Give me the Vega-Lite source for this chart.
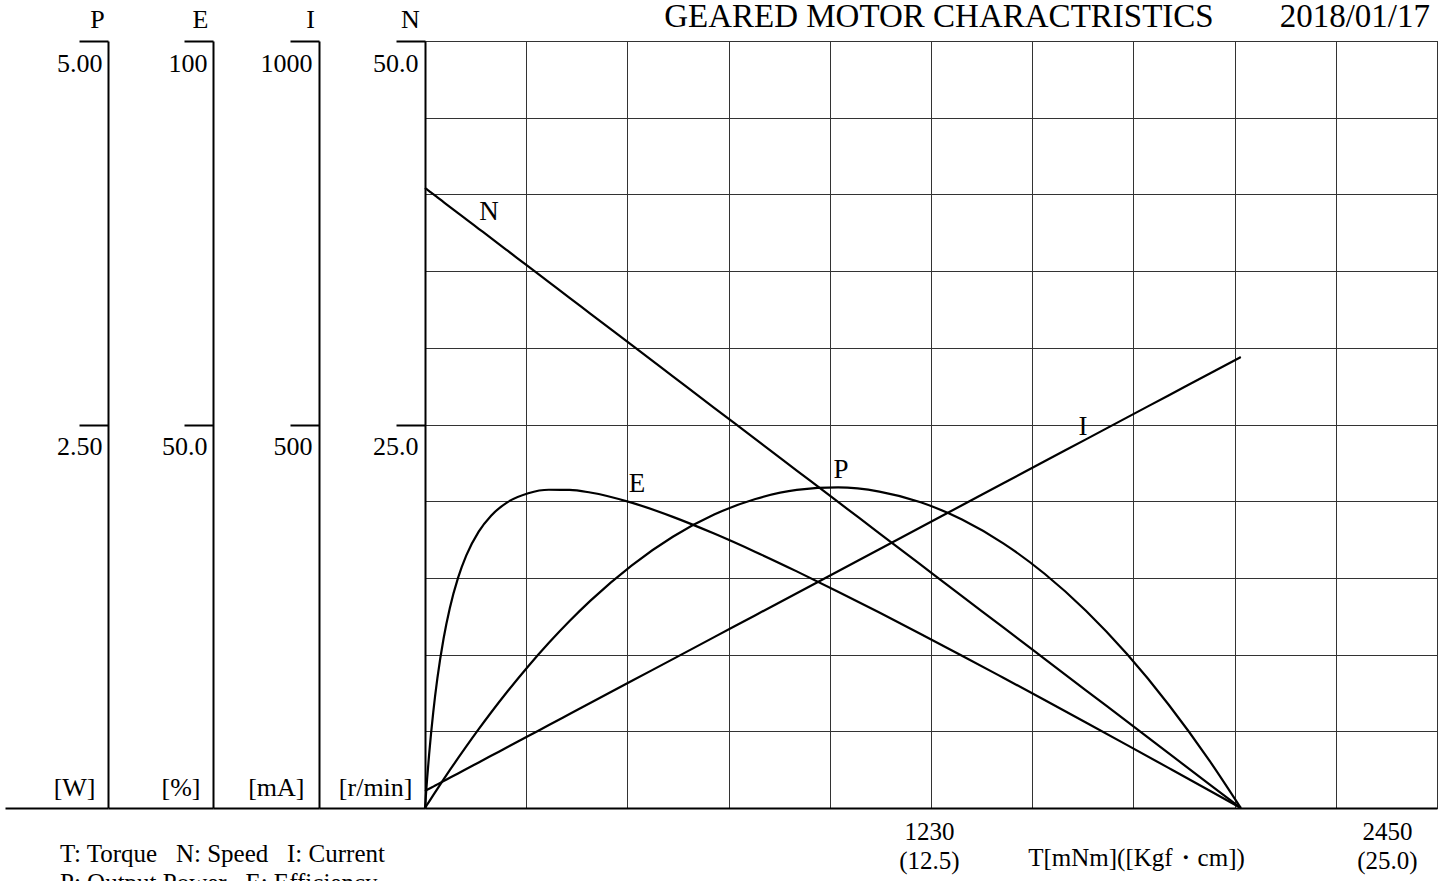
{
  "$schema": "https://vega.github.io/schema/vega-lite/v6.json",
  "width": 1012,
  "height": 767,
  "autosize": {"type": "none"},
  "padding": {"left": 425, "top": 41, "right": 12, "bottom": 73},
  "background": "white",
  "config": {
    "font": "Liberation Serif",
    "view": {"stroke": "black", "strokeWidth": 1},
    "axis": {
      "labelFont": "Liberation Serif",
      "labelColor": "black",
      "labelFontSize": 26,
      "titleFont": "Liberation Serif",
      "titleColor": "black",
      "titleFontSize": 26,
      "titleFontWeight": "normal",
      "domainColor": "black",
      "domainWidth": 2,
      "tickColor": "black",
      "tickWidth": 2,
      "gridColor": "#333333",
      "gridWidth": 1,
      "gridOpacity": 1
    }
  },
  "title": {
    "text": "GEARED MOTOR CHARACTRISTICS\u00a0\u00a0\u00a0\u00a0\u00a0\u00a0\u00a0\u00a02018/01/17",
    "anchor": "end",
    "frame": "group",
    "dx": -7,
    "offset": -54,
    "baseline": "alphabetic",
    "font": "Liberation Serif",
    "fontSize": 33,
    "fontWeight": "normal",
    "color": "black"
  },
  "datasets": {
    "curve": [
      {"T": 0, "N": 40.42, "I": 22.2, "P": 0, "E": 0},
      {"T": 5, "N": 40.32, "I": 23.6, "P": 0.0211, "E": 3.72},
      {"T": 10, "N": 40.22, "I": 25.1, "P": 0.0421, "E": 7.0},
      {"T": 20, "N": 40.01, "I": 27.9, "P": 0.0838, "E": 12.5},
      {"T": 30, "N": 39.81, "I": 30.8, "P": 0.1251, "E": 16.92},
      {"T": 45, "N": 39.5, "I": 35.1, "P": 0.1861, "E": 22.1},
      {"T": 60, "N": 39.19, "I": 39.4, "P": 0.2463, "E": 26.05},
      {"T": 80, "N": 38.78, "I": 45.1, "P": 0.3249, "E": 30.0},
      {"T": 100, "N": 38.37, "I": 50.9, "P": 0.4018, "E": 32.93},
      {"T": 130, "N": 37.76, "I": 59.4, "P": 0.514, "E": 36.03},
      {"T": 160, "N": 37.15, "I": 68.0, "P": 0.6224, "E": 38.11},
      {"T": 200, "N": 36.33, "I": 79.5, "P": 0.7608, "E": 39.88},
      {"T": 250, "N": 35.3, "I": 93.8, "P": 0.9243, "E": 41.04},
      {"T": 300, "N": 34.28, "I": 108.2, "P": 1.0769, "E": 41.49},
      {"T": 350, "N": 33.26, "I": 122.5, "P": 1.2189, "E": 41.47},
      {"T": 400, "N": 32.23, "I": 136.8, "P": 1.3502, "E": 41.13},
      {"T": 500, "N": 30.19, "I": 165.5, "P": 1.5806, "E": 39.81},
      {"T": 600, "N": 28.14, "I": 194.1, "P": 1.7682, "E": 37.96},
      {"T": 700, "N": 26.09, "I": 222.8, "P": 1.9128, "E": 35.78},
      {"T": 800, "N": 24.05, "I": 251.4, "P": 2.0146, "E": 33.39},
      {"T": 900, "N": 22.0, "I": 280.1, "P": 2.0735, "E": 30.85},
      {"T": 1000, "N": 19.95, "I": 308.7, "P": 2.0896, "E": 28.2},
      {"T": 1100, "N": 17.91, "I": 337.4, "P": 2.0629, "E": 25.48},
      {"T": 1200, "N": 15.86, "I": 366.0, "P": 1.9932, "E": 22.69},
      {"T": 1300, "N": 13.81, "I": 394.7, "P": 1.8806, "E": 19.86},
      {"T": 1400, "N": 11.77, "I": 423.3, "P": 1.7253, "E": 16.98},
      {"T": 1500, "N": 9.72, "I": 452.0, "P": 1.527, "E": 14.08},
      {"T": 1600, "N": 7.67, "I": 480.6, "P": 1.286, "E": 11.15},
      {"T": 1700, "N": 5.63, "I": 509.3, "P": 1.0019, "E": 8.2},
      {"T": 1800, "N": 3.58, "I": 537.9, "P": 0.675, "E": 5.23},
      {"T": 1900, "N": 1.53, "I": 566.6, "P": 0.3054, "E": 2.25},
      {"T": 1975, "N": 0, "I": 588.0, "P": 0, "E": 0}
    ],
    "labels": [
      {"T": 155, "V": 38.85, "label": "N"},
      {"T": 513, "V": 21.12, "label": "E"},
      {"T": 1007, "V": 22.03, "label": "P"},
      {"T": 1593, "V": 24.84, "label": "I"}
    ],
    "notes": [
      {"T": -883.7, "V": -3.52, "label": ["T: Torque\u00a0\u00a0\u00a0N: Speed\u00a0\u00a0\u00a0I: Current", "P: Output Power\u00a0\u00a0\u00a0E: Efficiency"]}
    ]
  },
  "data": {"name": "curve"},
  "encoding": {
    "x": {
      "field": "T",
      "type": "quantitative",
      "scale": {"domain": [0, 2450], "nice": false, "zero": true},
      "axis": {
        "values": [0, 245, 490, 735, 980, 1225, 1470, 1715, 1960, 2205, 2450],
        "grid": true,
        "ticks": false,
        "domain": true,
        "labelFlush": false,
        "labelFontSize": 25,
        "labelPadding": 11,
        "labelLineHeight": 29,
        "labelBaseline": "top",
        "labelOffset": {"condition": {"test": "datum.value == 2450", "value": -50}, "value": -2},
        "labelExpr": "datum.value == 1225 ? ['1230', '(12.5)'] : datum.value == 2450 ? ['2450', '(25.0)'] : ''",
        "title": "T[mNm]([Kgf\u30fbcm])",
        "titleFontSize": 25,
        "titleX": 711,
        "titleY": 49,
        "titleBaseline": "middle",
        "titleAlign": "center"
      }
    }
  },
  "resolve": {"scale": {"y": "independent"}},
  "layer": [
    {
      "mark": {"type": "line", "strokeOpacity": 0},
      "encoding": {
        "y": {
          "field": "N",
          "type": "quantitative",
          "scale": {"domain": [0, 50], "nice": false},
          "axis": {
            "orient": "left",
            "values": [0, 5, 10, 15, 20, 25, 30, 35, 40, 45, 50],
            "grid": true,
            "labels": false,
            "ticks": false,
            "domain": false,
            "title": null
          }
        }
      }
    },
    {
      "mark": {"type": "line", "stroke": "black", "strokeWidth": 2.2, "interpolate": "monotone"},
      "encoding": {
        "y": {
          "field": "N",
          "type": "quantitative",
          "scale": {"domain": [0, 50], "nice": false},
          "axis": {
            "orient": "left",
            "offset": 0,
            "values": [0, 25, 50],
            "format": ".3r",
            "grid": false,
            "labelExpr": "datum.value == 0 ? '[r/min]' : datum.label",
            "labelAlign": "right",
            "tickSize": {"condition": {"test": "datum.value == 0", "value": 106}, "value": 29},
            "labelPadding": {"condition": {"test": "datum.value == 0", "value": -93}, "value": -22},
            "labelOffset": {"condition": {"test": "datum.value == 0", "value": -13}, "value": 9},
            "labelBaseline": {"condition": {"test": "datum.value == 0", "value": "alphabetic"}, "value": "top"},
            "title": "N",
            "titleFontSize": 26,
            "titleAngle": 0,
            "titleAlign": "center",
            "titleBaseline": "alphabetic",
            "titleX": -15,
            "titleY": -14
          }
        }
      }
    },
    {
      "mark": {"type": "line", "stroke": "black", "strokeWidth": 2.2, "interpolate": "monotone"},
      "encoding": {
        "y": {
          "field": "I",
          "type": "quantitative",
          "scale": {"domain": [0, 1000], "nice": false},
          "axis": {
            "orient": "left",
            "offset": 106,
            "values": [0, 500, 1000],
            "format": ".3r",
            "grid": false,
            "labelExpr": "datum.value == 0 ? '[mA]' : datum.label",
            "labelAlign": "right",
            "tickSize": {"condition": {"test": "datum.value == 0", "value": 106}, "value": 29},
            "labelPadding": {"condition": {"test": "datum.value == 0", "value": -91}, "value": -22},
            "labelOffset": {"condition": {"test": "datum.value == 0", "value": -13}, "value": 9},
            "labelBaseline": {"condition": {"test": "datum.value == 0", "value": "alphabetic"}, "value": "top"},
            "title": "I",
            "titleFontSize": 26,
            "titleAngle": 0,
            "titleAlign": "center",
            "titleBaseline": "alphabetic",
            "titleX": -9,
            "titleY": -14
          }
        }
      }
    },
    {
      "mark": {"type": "line", "stroke": "black", "strokeWidth": 2.2, "interpolate": "monotone"},
      "encoding": {
        "y": {
          "field": "E",
          "type": "quantitative",
          "scale": {"domain": [0, 100], "nice": false},
          "axis": {
            "orient": "left",
            "offset": 212,
            "values": [0, 50, 100],
            "format": ".3r",
            "grid": false,
            "labelExpr": "datum.value == 0 ? '[%]' : datum.label",
            "labelAlign": "right",
            "tickSize": {"condition": {"test": "datum.value == 0", "value": 105}, "value": 29},
            "labelPadding": {"condition": {"test": "datum.value == 0", "value": -92}, "value": -23},
            "labelOffset": {"condition": {"test": "datum.value == 0", "value": -13}, "value": 9},
            "labelBaseline": {"condition": {"test": "datum.value == 0", "value": "alphabetic"}, "value": "top"},
            "title": "E",
            "titleFontSize": 26,
            "titleAngle": 0,
            "titleAlign": "center",
            "titleBaseline": "alphabetic",
            "titleX": -13,
            "titleY": -14
          }
        }
      }
    },
    {
      "mark": {"type": "line", "stroke": "black", "strokeWidth": 2.2, "interpolate": "monotone"},
      "encoding": {
        "y": {
          "field": "P",
          "type": "quantitative",
          "scale": {"domain": [0, 5], "nice": false},
          "axis": {
            "orient": "left",
            "offset": 317,
            "values": [0, 2.5, 5],
            "format": ".3r",
            "grid": false,
            "labelExpr": "datum.value == 0 ? '[W]' : datum.label",
            "labelAlign": "right",
            "tickSize": {"condition": {"test": "datum.value == 0", "value": 103}, "value": 29},
            "labelPadding": {"condition": {"test": "datum.value == 0", "value": -90}, "value": -23},
            "labelOffset": {"condition": {"test": "datum.value == 0", "value": -13}, "value": 9},
            "labelBaseline": {"condition": {"test": "datum.value == 0", "value": "alphabetic"}, "value": "top"},
            "title": "P",
            "titleFontSize": 26,
            "titleAngle": 0,
            "titleAlign": "center",
            "titleBaseline": "alphabetic",
            "titleX": -11,
            "titleY": -14
          }
        }
      }
    },
    {
      "data": {"name": "labels"},
      "mark": {"type": "text", "fontSize": 27, "align": "center", "baseline": "middle", "color": "black"},
      "encoding": {
        "y": {"field": "V", "type": "quantitative", "scale": {"domain": [0, 50], "nice": false}, "axis": null},
        "text": {"field": "label"}
      }
    },
    {
      "data": {"name": "notes"},
      "mark": {"type": "text", "fontSize": 25, "align": "left", "baseline": "alphabetic", "lineHeight": 29, "color": "black"},
      "encoding": {
        "y": {"field": "V", "type": "quantitative", "scale": {"domain": [0, 50], "nice": false}, "axis": null},
        "text": {"field": "label"}
      }
    }
  ]
}
